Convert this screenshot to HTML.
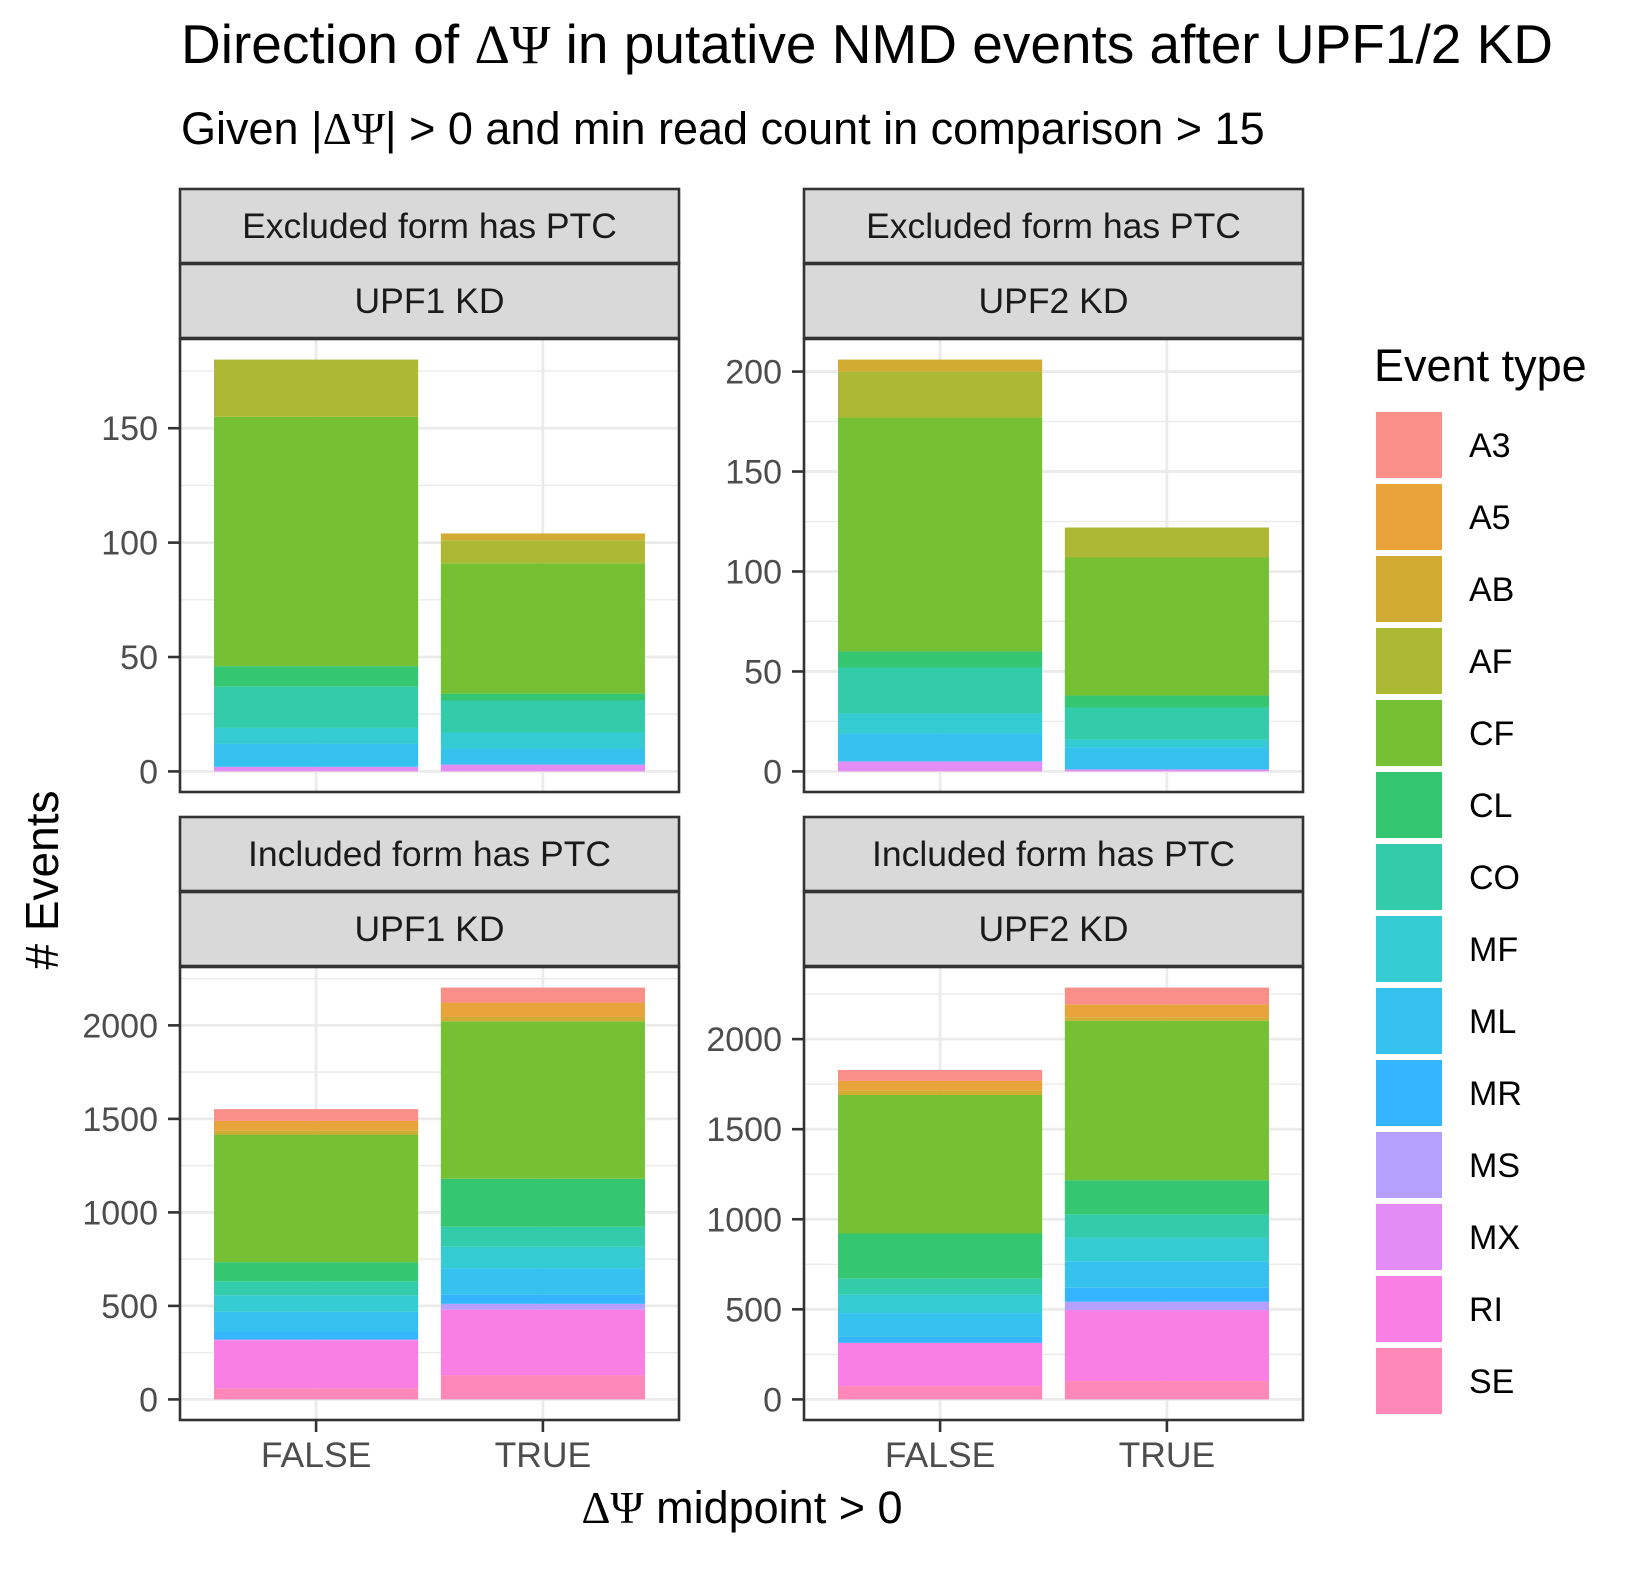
<!DOCTYPE html>
<html><head><meta charset="utf-8"><style>
html,body{margin:0;padding:0;background:#fff}
svg text{font-family:"Liberation Sans",Arial,sans-serif}
</style></head><body>
<svg id="chart" width="1634" height="1568" viewBox="0 0 1634 1568" xmlns="http://www.w3.org/2000/svg">
<text x="181" y="63" font-size="55" fill="#000">Direction of <tspan font-family="Liberation Serif,serif">ΔΨ</tspan> in putative NMD events after UPF1/2 KD</text>
<text x="181" y="144" font-size="45" fill="#000">Given |<tspan font-family="Liberation Serif,serif">ΔΨ</tspan>| &gt; 0 and min read count in comparison &gt; 15</text>
<text x="742" y="1523" font-size="45" text-anchor="middle" fill="#000"><tspan font-family="Liberation Serif,serif">ΔΨ</tspan> midpoint &gt; 0</text>
<text transform="translate(58,880) rotate(-90)" font-size="46" text-anchor="middle" fill="#000"># Events</text>
<text x="1374" y="381" font-size="45" fill="#000">Event type</text>
<g id="panels"></g>
<g id="legend"></g>
</svg>
<script>
const eventTypes = ["A3","A5","AB","AF","CF","CL","CO","MF","ML","MR","MS","MX","RI","SE"];
const colors = ["#F98F88","#E8A33A","#D2AC32","#ADB934","#75C133","#35C672","#33CCAA","#35CBD2","#35C2EE","#35B4FF","#B6A0FF","#E48CF6","#FA7FE4","#FF88B8"];
const categories = ["FALSE","TRUE"];
const stripTop = ["Excluded form has PTC","Excluded form has PTC","Included form has PTC","Included form has PTC"];
const stripBottom = ["UPF1 KD","UPF2 KD","UPF1 KD","UPF2 KD"];
const tlFalse = [0,0,0,25,109,9,18,7,10,0,0,2,0,0];
const tlTrue  = [0,0,3,10,57,3,14,7,7,0,0,3,0,0];
const trFalse = [0,0,6,23,117,8,23,10,14,0,0,5,0,0];
const trTrue  = [0,0,0,15,69,6,16,4,11,0,0,1,0,0];
const blFalse = [63,50,23,0,682,102,75,89,105,43,0,4,257,59];
const blTrue  = [80,77,23,0,842,257,107,114,143,48,31,0,350,130];
const brFalse = [61,52,26,0,769,251,89,102,132,33,0,0,240,74];
const brTrue  = [93,72,19,0,886,189,128,132,147,78,46,0,394,102];
const tlTicks = [0,50,100,150];
const trTicks = [0,50,100,150,200];
const blTicks = [0,500,1000,1500,2000];
const brTicks = [0,500,1000,1500,2000];

const NS="http://www.w3.org/2000/svg";
function mk(tag, attrs, parent){const e=document.createElementNS(NS,tag);for(const k in attrs)e.setAttribute(k,attrs[k]);parent.appendChild(e);return e;}
const panelsG=document.getElementById('panels');
const layout=[{x:180,y:189},{x:804,y:189},{x:180,y:817},{x:804,y:817}];
const series=[[tlFalse,tlTrue],[trFalse,trTrue],[blFalse,blTrue],[brFalse,brTrue]];
const ticks=[tlTicks,trTicks,blTicks,brTicks];
const names=["top-left","top-right","bottom-left","bottom-right"];
const PW=499, SH=74, PH=453;
layout.forEach((L,pi)=>{
  const g=mk('g',{},panelsG);
  
  
  const px=L.x, py=L.y+2*SH+2;
  const totals=series[pi].map(a=>a.reduce((s,v)=>s+v,0));
  const M=Math.max(...totals);
  const lo=-0.05*M, hi=1.05*M;
  const yS=v=>py+PH-(v-lo)/(hi-lo)*PH;
  const xS=u=>px+(u-0.4)/2.2*PW;
  const tk=ticks[pi], step=tk[1]-tk[0];
  for(let v=tk[0]+step/2; v<hi; v+=step){
    const l=mk('line',{x1:px,x2:px+PW,y1:yS(v),y2:yS(v),stroke:'#ebebeb','stroke-width':1.4},g);
    
    
  }
  tk.forEach(v=>{
    const l=mk('line',{x1:px,x2:px+PW,y1:yS(v),y2:yS(v),stroke:'#ebebeb','stroke-width':2.8},g);
    
    
  });
  categories.forEach((c,ci)=>{
    const l=mk('line',{x1:xS(ci+1),x2:xS(ci+1),y1:py,y2:py+PH,stroke:'#ebebeb','stroke-width':2.8},g);
    
    
  });
  categories.forEach((c,ci)=>{
    const vals=series[pi][ci];
    let cum=0;
    for(let k=eventTypes.length-1;k>=0;k--){
      const v=vals[k]; if(v<=0) continue;
      const y0=yS(cum), y1=yS(cum+v);
      const w=0.9/2.2*PW;
      const r=mk('rect',{x:xS(ci+1)-w/2,y:y1,width:w,height:y0-y1,fill:colors[k]},g);
      
      
      cum+=v;
    }
  });
  const b=mk('rect',{x:px,y:py,width:PW,height:PH,fill:'none',stroke:'#333','stroke-width':2.6},g);
  
  
  [stripTop[pi],stripBottom[pi]].forEach((t,si)=>{
    const sy=L.y+si*(SH+1);
    const s=mk('rect',{x:px,y:sy,width:PW,height:SH,fill:'#d9d9d9',stroke:'#333','stroke-width':2.6},g);
    
    
    const tx=mk('text',{x:px+PW/2,y:sy+SH/2+12,'font-size':35.5,'text-anchor':'middle',fill:'#1a1a1a'},g);
    tx.textContent=t;
    
    
  });
  tk.forEach(v=>{
    const l=mk('line',{x1:px-12,x2:px,y1:yS(v),y2:yS(v),stroke:'#333','stroke-width':2.6},g);
    
    
    const t=mk('text',{x:px-22,y:yS(v)+12,'font-size':34,'text-anchor':'end',fill:'#4d4d4d'},g);
    t.textContent=v;
    
    
  });
  if(pi>=2){
    categories.forEach((c,ci)=>{
      const l=mk('line',{x1:xS(ci+1),x2:xS(ci+1),y1:py+PH,y2:py+PH+12,stroke:'#333','stroke-width':2.6},g);
      
      
      const t=mk('text',{x:xS(ci+1),y:1467,'font-size':35.5,'text-anchor':'middle',fill:'#4d4d4d'},g);
      t.textContent=c;
      
      
    });
  }
});
const lg=document.getElementById('legend');
eventTypes.forEach((e,i)=>{
  const y=412+i*72;
  const r=mk('rect',{x:1376,y:y,width:66,height:66,fill:colors[i]},lg);
  
  
  const t=mk('text',{x:1469,y:y+45,'font-size':34,fill:'#000'},lg);
  t.textContent=e;
  
  
});
</script>
</body></html>
